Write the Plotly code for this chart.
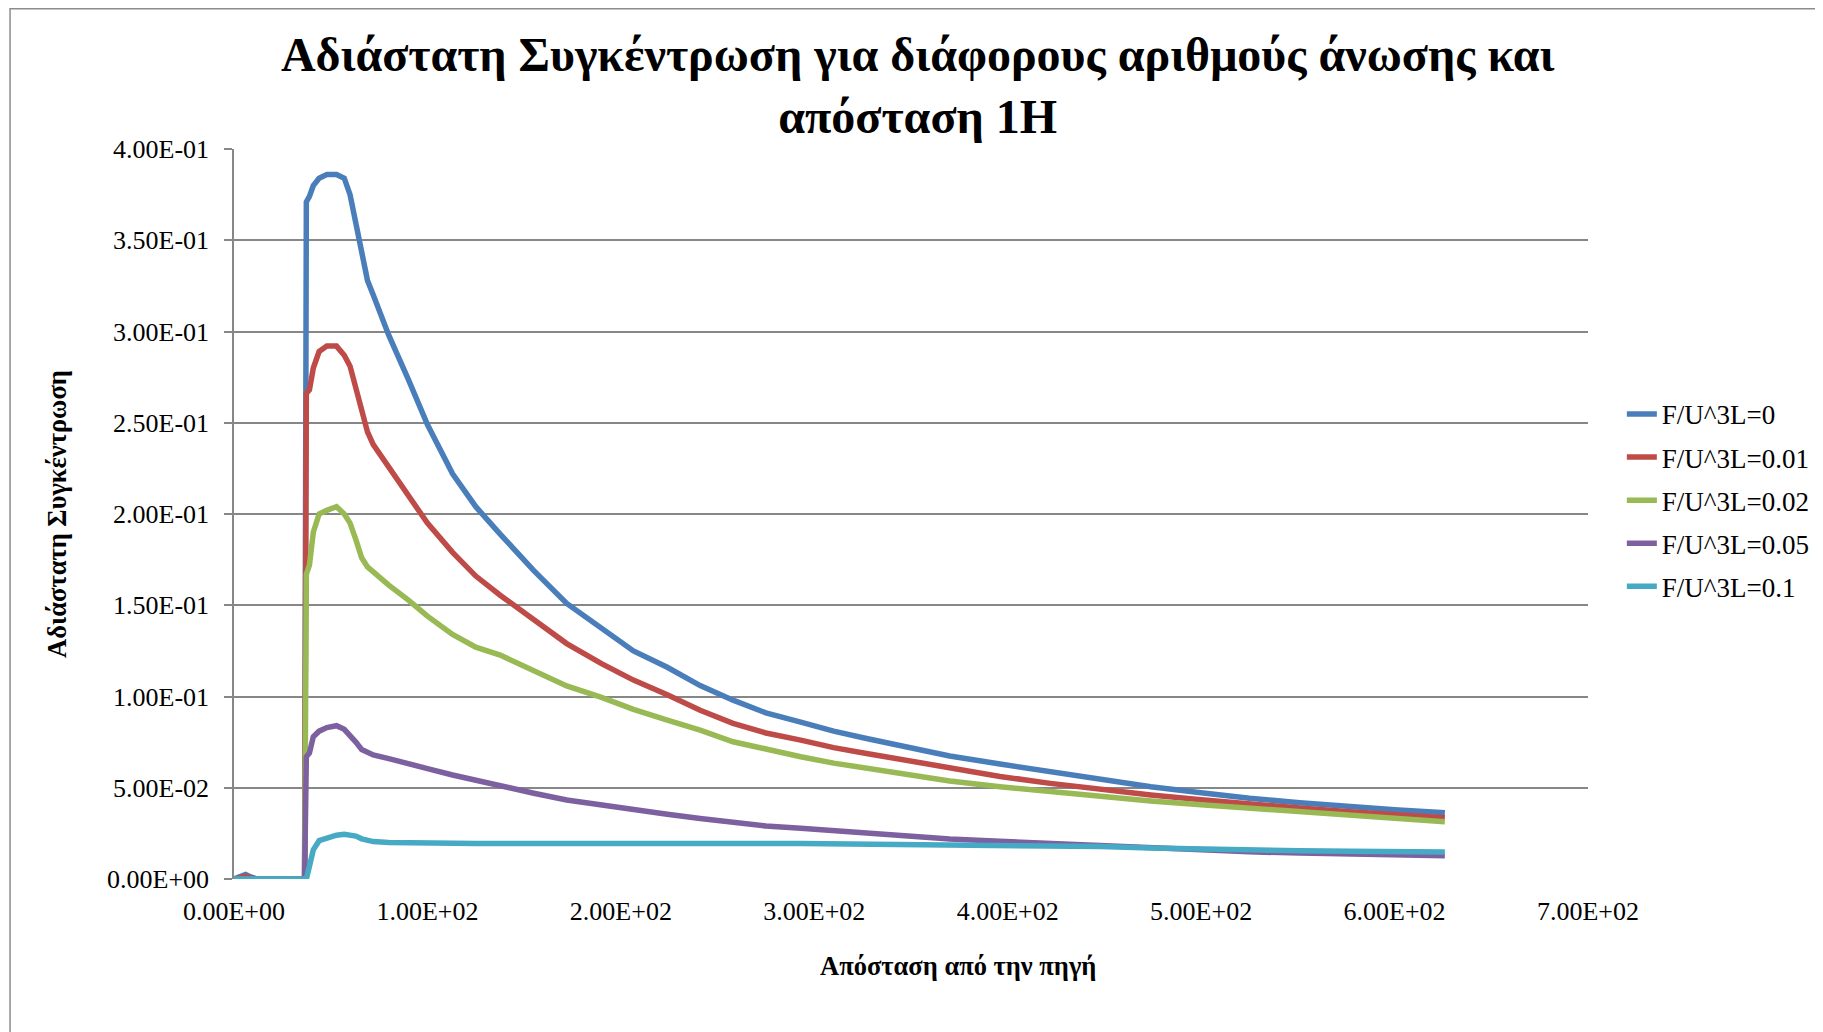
import plotly.graph_objects as go

# distance from source (shared x for all series)
x_dist = [0, 3, 6, 9, 12, 36.5, 37.4, 39, 41, 44, 48, 53, 57, 60, 63, 66, 69, 72, 80, 90,
          100, 113, 125, 137.6, 155, 172, 190, 206.5, 224, 241, 258, 275, 293, 310, 327,
          350, 370, 396, 422, 448, 474, 500, 525, 551, 577, 600, 626]

# F/U^3L = 0
c_0 = [0, 0.0015, 0.0025, 0.001, 0, 0, 0.371, 0.374, 0.380, 0.384, 0.386, 0.386, 0.384,
       0.375, 0.358, 0.342, 0.328, 0.320, 0.298, 0.274, 0.249, 0.222, 0.204, 0.189, 0.169,
       0.151, 0.137, 0.125, 0.116, 0.106, 0.098, 0.091, 0.086, 0.081, 0.077, 0.072, 0.0674,
       0.063, 0.0588, 0.0546, 0.0506, 0.0473, 0.0442, 0.0418, 0.0396, 0.038, 0.0363]
# F/U^3L = 0.01
c_001 = [0, 0.001, 0.0015, 0.0005, 0, 0, 0.266, 0.268, 0.280, 0.289, 0.292, 0.292, 0.287,
         0.281, 0.269, 0.255, 0.245, 0.238, 0.226, 0.210, 0.195, 0.179, 0.166, 0.1555, 0.142,
         0.129, 0.118, 0.109, 0.101, 0.0925, 0.0853, 0.080, 0.0761, 0.072, 0.0688, 0.0645,
         0.0606, 0.0562, 0.0524, 0.049, 0.046, 0.0434, 0.041, 0.0389, 0.0369, 0.0352, 0.0336]
# F/U^3L = 0.02
c_002 = [0, 0, 0, 0, 0, 0, 0.167, 0.172, 0.190, 0.200, 0.202, 0.204, 0.200, 0.195, 0.186,
         0.176, 0.171, 0.168, 0.161, 0.153, 0.144, 0.134, 0.127, 0.1227, 0.114, 0.1058, 0.0995,
         0.093, 0.087, 0.0816, 0.0752, 0.071, 0.067, 0.0635, 0.0606, 0.057, 0.0537, 0.0505,
         0.0478, 0.0452, 0.0427, 0.0407, 0.0387, 0.0368, 0.035, 0.0333, 0.0314]
# F/U^3L = 0.05
c_005 = [0, 0, 0, 0, 0, 0, 0.067, 0.069, 0.078, 0.081, 0.083, 0.084, 0.082, 0.079, 0.075,
         0.071, 0.0695, 0.068, 0.066, 0.063, 0.0605, 0.057, 0.054, 0.0506, 0.047, 0.0433,
         0.0405, 0.0378, 0.0355, 0.0332, 0.031, 0.029, 0.0278, 0.0264, 0.025, 0.0233, 0.0219,
         0.0207, 0.0195, 0.0178, 0.0166, 0.0157, 0.0149, 0.0142, 0.0136, 0.0132, 0.0128]
# F/U^3L = 0.1
c_01 = [0, 0, 0, 0, 0, 0, 0.0, 0.007, 0.016, 0.021, 0.0225, 0.024, 0.0245, 0.024, 0.0235,
        0.022, 0.021, 0.0205, 0.020, 0.0197, 0.0196, 0.0195, 0.0194, 0.0194, 0.0195, 0.0196,
        0.0197, 0.0197, 0.0197, 0.0197, 0.0196, 0.0195, 0.0194, 0.0193, 0.0192, 0.0191, 0.019,
        0.0188, 0.0184, 0.0178, 0.0170, 0.0163, 0.0159, 0.0155, 0.0152, 0.015, 0.0148]

series_names = ["F/U^3L=0", "F/U^3L=0.01", "F/U^3L=0.02", "F/U^3L=0.05", "F/U^3L=0.1"]
series_vals = [c_0, c_001, c_002, c_005, c_01]
colors = ["#4A7EBB", "#BE4B48", "#98B954", "#7D60A0", "#46AAC5"]

x_ticks = [0, 100, 200, 300, 400, 500, 600, 700]
x_tick_labels = ["0.00E+00", "1.00E+02", "2.00E+02", "3.00E+02", "4.00E+02",
                 "5.00E+02", "6.00E+02", "7.00E+02"]
y_ticks = [0, 0.05, 0.1, 0.15, 0.2, 0.25, 0.3, 0.35, 0.4]
y_tick_labels = ["0.00E+00", "5.00E-02", "1.00E-01", "1.50E-01", "2.00E-01",
                 "2.50E-01", "3.00E-01", "3.50E-01", "4.00E-01"]

FONT = "Liberation Serif, Times New Roman, serif"
GRID = "#878787"

fig = go.Figure()
for name, vals, col in zip(series_names, series_vals, colors):
    fig.add_trace(go.Scatter(x=x_dist, y=vals, mode="lines", name=name, legendgroup=name,
                             line=dict(color=col, width=5.5)))

# page has an 8px body margin, so margins are shifted to compensate
fig.update_layout(
    width=1823, height=1032,
    margin=dict(l=226, r=243, t=141, b=161),
    paper_bgcolor="white", plot_bgcolor="white",
    font=dict(family=FONT, color="black", size=26),
    title=dict(text="Αδιάστατη Συγκέντρωση για διάφορους αριθμούς άνωσης και<br>απόσταση 1H",
               font=dict(family=FONT, size=48, weight="bold"),
               x=0.499, xanchor="center", y=0.939, yanchor="middle"),
    legend=dict(x=1.025, xanchor="left", y=0.670, yanchor="top",
                font=dict(family=FONT, size=27), tracegroupgap=5,
                bgcolor="rgba(0,0,0,0)"),
    showlegend=True,
)
fig.update_xaxes(range=[0, 700], tickvals=x_ticks, ticktext=x_tick_labels,
                 showgrid=False, zeroline=False, showline=False, ticks="",
                 ticklabelstandoff=14)
fig.update_yaxes(range=[0, 0.4], tickvals=y_ticks, ticktext=y_tick_labels,
                 showgrid=True, gridcolor=GRID, gridwidth=1.5, zeroline=False,
                 showline=True, linecolor=GRID, linewidth=1.5,
                 ticks="outside", ticklen=8, tickcolor=GRID, tickwidth=1.5,
                 ticklabelstandoff=10,
                 title=dict(text="Αδιάστατη Συγκέντρωση", standoff=33,
                            font=dict(family=FONT, size=26.5, weight="bold")))

# x-axis title sits right of centre in the original
fig.add_annotation(text="Απόσταση από την πηγή", xref="paper", yref="paper",
                   x=0.5347, y=-0.119, xanchor="center", yanchor="middle",
                   showarrow=False, font=dict(family=FONT, size=26.5, weight="bold"))

# outer chart border (top and left visible in the original)
fig.add_shape(type="rect", xref="paper", yref="paper",
              x0=-0.1654, x1=1.2, y0=-0.25, y1=1.192,
              line=dict(color="#8c8c8c", width=1.5), layer="below")

fig.write_html("out.html")
